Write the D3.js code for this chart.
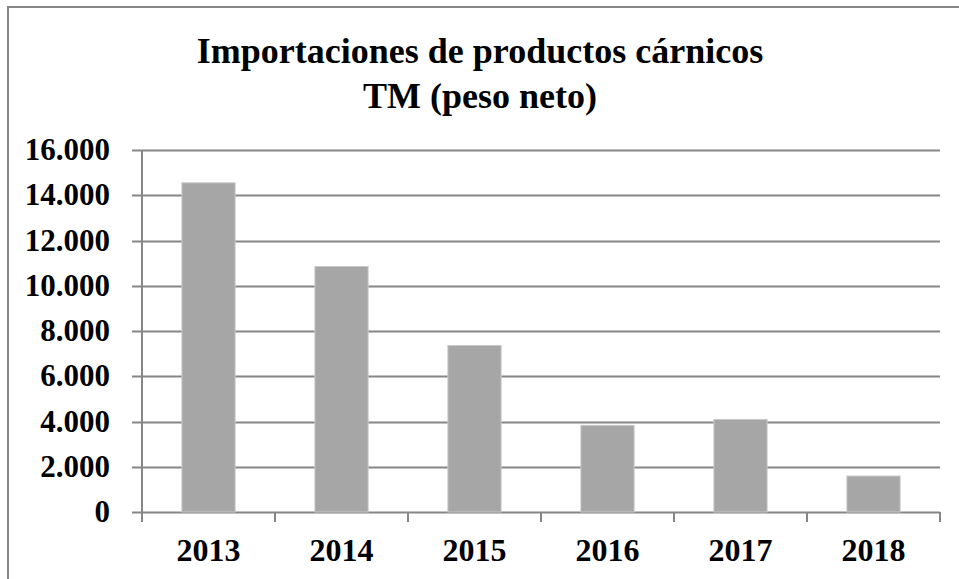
<!DOCTYPE html>
<html>
<head>
<meta charset="utf-8">
<script src="https://cdn.jsdelivr.net/npm/d3@7"></script>
<style>
  body { margin: 0; background: #fff; }
  text { font-family: "Liberation Serif", "Times New Roman", serif; font-weight: bold; fill: #000; }
</style>
</head>
<body>
<div id="chart"></div>
<script>
// data
const years = ["2013", "2014", "2015", "2016", "2017", "2018"];
const tons = [14550, 10850, 7360, 3830, 4090, 1590];
const yTicks = [0, 2000, 4000, 6000, 8000, 10000, 12000, 14000, 16000];
const titleLines = ["Importaciones de productos cárnicos", "TM (peso neto)"];

const width = 959, height = 579;
const margin = { top: 150, right: 19, bottom: 67, left: 142 };

const svg = d3.select('#chart').append('svg')
  .attr('width', width)
  .attr('height', height);

// outer frame (only top and left edges fall inside the picture)
svg.append('rect')
  .attr('x', 8).attr('y', 7)
  .attr('width', width + 20).attr('height', height + 20)
  .attr('fill', 'none')
  .attr('stroke', '#868686')
  .attr('stroke-width', 2);

svg.append('text')
  .attr('x', 480).attr('y', 0)
  .attr('text-anchor', 'middle')
  .style('font-size', '36px')
  .selectAll('tspan')
  .data(titleLines)
  .join('tspan')
  .attr('x', 480)
  .attr('y', (d, i) => 63 + i * 45)
  .text(d => d);

let x = d3.scaleBand().domain(years).range([margin.left, width - margin.right]).paddingInner(0.6).paddingOuter(0.3);
let y = d3.scaleLinear().domain([0, 16000]).range([height - margin.bottom, margin.top]);

const fmt = v => d3.format(',')(v).replace(/,/g, '.');

// grid lines
svg.append('g')
  .selectAll('line')
  .data(yTicks)
  .join('line')
  .attr('x1', margin.left - 10)
  .attr('x2', width - margin.right)
  .attr('y1', d => Math.round(y(d)) + 0.5)
  .attr('y2', d => Math.round(y(d)) + 0.5)
  .attr('stroke', '#868686')
  .attr('stroke-width', 2);

// bars
svg.append('g')
  .selectAll('rect')
  .data(tons)
  .join('rect')
  .attr('x', (d, i) => x(years[i]))
  .attr('y', d => y(d))
  .attr('width', x.bandwidth())
  .attr('height', d => y(0) - y(d))
  .attr('fill', '#a6a6a6')
  .attr('stroke', '#c8c8c8')
  .attr('stroke-width', 1);

// y axis line
svg.append('line')
  .attr('x1', margin.left).attr('x2', margin.left)
  .attr('y1', y(16000)).attr('y2', y(0) + 1)
  .attr('stroke', '#868686').attr('stroke-width', 2);

// x axis ticks between categories
let step = x.step();
let xTickPos = d3.range(years.length + 1).map(i => margin.left + i * step);
svg.append('g')
  .selectAll('line')
  .data(xTickPos)
  .join('line')
  .attr('x1', d => d).attr('x2', d => d)
  .attr('y1', y(0)).attr('y2', y(0) + 10)
  .attr('stroke', '#868686').attr('stroke-width', 2);

// y tick labels
svg.append('g')
  .selectAll('text')
  .data(yTicks)
  .join('text')
  .attr('x', 110)
  .attr('y', d => y(d) + 10)
  .attr('text-anchor', 'end')
  .style('font-size', '31px')
  .text(fmt);

// x labels
svg.append('g')
  .selectAll('text')
  .data(years)
  .join('text')
  .attr('x', d => x(d) + x.bandwidth() / 2)
  .attr('y', 561)
  .attr('text-anchor', 'middle')
  .style('font-size', '32px')
  .text(d => d);
</script>
</body>
</html>
